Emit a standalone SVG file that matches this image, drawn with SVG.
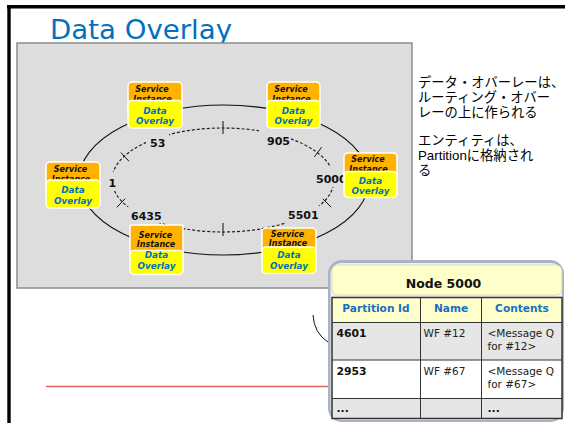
<svg xmlns="http://www.w3.org/2000/svg" width="565" height="423" viewBox="0 0 565 423">
<style>
.sans{font-family:"DejaVu Sans",Verdana,sans-serif}
.si{fill:#ffb300;stroke:#ffffff;stroke-width:1.5}
.do{fill:#ffff00;stroke:#ffffff;stroke-width:1.5}
.sit{font-family:"DejaVu Sans",Verdana,sans-serif;font-size:8px;font-weight:bold;font-style:italic;fill:#111;text-anchor:middle}
.dot{font-family:"DejaVu Sans",Verdana,sans-serif;font-size:8.8px;font-weight:bold;font-style:italic;fill:#0070c0;text-anchor:middle}
.lbl{font-family:"DejaVu Sans",Verdana,sans-serif;font-size:11px;font-weight:bold;fill:#111}
.lbg{fill:#dddddd}
.tick{stroke:#111;stroke-width:1}
.th{font-family:"DejaVu Sans",Verdana,sans-serif;font-size:10.6px;font-weight:bold;fill:#1a6fc0;text-anchor:middle}
.td{font-family:"DejaVu Sans",Verdana,sans-serif;font-size:10.5px;fill:#222}
.tb{font-family:"DejaVu Sans",Verdana,sans-serif;font-size:10.8px;font-weight:bold;fill:#111}
.grid{stroke:#333;stroke-width:1;fill:none}
.jp{font-family:"Liberation Sans","Noto Sans CJK JP",sans-serif;font-size:13.3px;fill:#000}
</style>
<rect width="565" height="423" fill="#ffffff"/>
<!-- frame -->
<rect x="7" y="5" width="558" height="3.5" fill="#000"/>
<rect x="7.3" y="5" width="3.4" height="418" fill="#000"/>
<!-- title -->
<text class="sans" x="50" y="39" font-size="26" fill="#0070c0" textLength="182" lengthAdjust="spacingAndGlyphs">Data Overlay</text>
<!-- panel -->
<rect x="17" y="43" width="395" height="245" fill="#dddddd" stroke="#8c8c8c" stroke-width="1.5"/>
<!-- connectors -->
<g id="connectors">
<ellipse cx="224" cy="180" rx="145" ry="75" fill="none" stroke="#111" stroke-width="1.1"/>
<ellipse cx="223" cy="180" rx="111" ry="52" fill="none" stroke="#222" stroke-width="1.2" stroke-dasharray="3,2"/>
<line class="tick" x1="223" y1="121" x2="223" y2="134"/>
<line class="tick" x1="223" y1="223" x2="223" y2="236"/>
<line class="tick" x1="120.9" y1="152.6" x2="129.1" y2="161.4"/>
<line class="tick" x1="116.8" y1="207.3" x2="125.2" y2="198.7"/>
<line class="tick" x1="314.4" y1="156.8" x2="321.6" y2="147.2"/>
<line class="tick" x1="322.8" y1="198.8" x2="331.2" y2="207.2"/>
<path d="M313,315 Q314,333 328,342" fill="none" stroke="#111" stroke-width="1"/>
<line x1="46" y1="386.5" x2="328" y2="386.5" stroke="#e06060" stroke-width="1.5"/>
</g>
<!-- ring labels -->
<g id="ring-labels">
<rect class="lbg" x="146" y="133" width="23" height="16"/>
<text class="lbl" x="150" y="147">53</text>
<rect class="lbg" x="259" y="128" width="32" height="19"/>
<text class="lbl" x="267" y="144.5">905</text>
<rect class="lbg" x="106" y="172" width="12" height="19"/>
<text class="lbl" x="108.5" y="186.5">1</text>
<rect class="lbg" x="314" y="167" width="30" height="20"/>
<text class="lbl" x="316" y="182.5">5000</text>
<rect class="lbg" x="127" y="207" width="36" height="16"/>
<text class="lbl" x="131" y="219.5">6435</text>
<rect class="lbg" x="285" y="206" width="35" height="17"/>
<text class="lbl" x="288" y="218.5">5501</text>
</g>
<!-- nodes -->
<g id="node-top-left">
<rect class="si" x="128" y="82" width="54" height="28" rx="4"/>
<text class="sit" x="152" y="91.5">Service</text>
<text class="sit" x="152.5" y="101.5">Instance</text>
<rect class="do" x="128" y="100.5" width="54" height="27.5" rx="4"/>
<text class="dot" x="155" y="113.5">Data</text>
<text class="dot" x="155" y="123.5">Overlay</text>
</g>
<g id="node-top-right">
<rect class="si" x="267" y="82" width="53" height="28" rx="4"/>
<text class="sit" x="291" y="91.5">Service</text>
<text class="sit" x="291.5" y="101.5">Instance</text>
<rect class="do" x="267" y="100.5" width="53" height="27.5" rx="4"/>
<text class="dot" x="293.5" y="113.5">Data</text>
<text class="dot" x="293.5" y="123.5">Overlay</text>
</g>
<g id="node-right">
<rect class="si" x="344" y="153" width="53" height="26" rx="4"/>
<text class="sit" x="368" y="162">Service</text>
<text class="sit" x="368.5" y="171.5">Instance</text>
<rect class="do" x="344" y="171.5" width="53" height="26" rx="4"/>
<text class="dot" x="370.5" y="183.5">Data</text>
<text class="dot" x="370.5" y="193.5">Overlay</text>
</g>
<g id="node-left">
<rect class="si" x="46" y="162" width="54" height="26" rx="4"/>
<text class="sit" x="70.5" y="171.5">Service</text>
<text class="sit" x="71" y="181.5">Instance</text>
<rect class="do" x="46" y="180" width="54" height="28" rx="4"/>
<text class="dot" x="73" y="192.5">Data</text>
<text class="dot" x="73" y="203.5">Overlay</text>
</g>
<g id="node-bottom-left">
<rect class="si" x="130" y="225" width="53" height="30" rx="2"/>
<text class="sit" x="155.5" y="237.5">Service</text>
<text class="sit" x="156" y="246.5">Instance</text>
<rect class="do" x="130" y="250.5" width="53" height="24" rx="4"/>
<text class="dot" x="156.5" y="258">Data</text>
<text class="dot" x="156.5" y="269">Overlay</text>
</g>
<g id="node-bottom-right">
<rect class="si" x="262" y="228" width="54" height="24" rx="4"/>
<text class="sit" x="287.5" y="237">Service</text>
<text class="sit" x="288" y="246">Instance</text>
<rect class="do" x="262" y="247" width="54" height="26.5" rx="4"/>
<text class="dot" x="289" y="257.5">Data</text>
<text class="dot" x="289" y="268.5">Overlay</text>
</g>
<!-- Japanese notes -->
<text class="jp">
<tspan x="418" y="87">データ・オバーレーは、</tspan>
<tspan x="418" y="102">ルーティング・オバー</tspan>
<tspan x="418" y="117">レーの上に作られる</tspan>
<tspan x="418" y="145">エンティティは、</tspan>
<tspan x="418" y="160">Partitionに格納され</tspan>
<tspan x="418" y="174.5">る</tspan>
</text>
<!-- table node -->
<g id="node-5000">
<rect x="328" y="260" width="236" height="162" rx="14" fill="#a9b3c2"/>
<rect x="330.5" y="263" width="231.5" height="157" rx="11" fill="#eef0f3"/>
<rect x="332" y="265" width="230" height="30" rx="6" fill="#ffffcc" stroke="#d4d4a8" stroke-width="0.8"/>
<text class="sans" x="443.5" y="287.5" font-size="12.5" font-weight="bold" text-anchor="middle" fill="#111">Node 5000</text>
<rect x="332" y="297.5" width="230" height="25" fill="#ffffcc"/>
<rect x="332" y="322.5" width="230" height="37.5" fill="#e6e6e6"/>
<rect x="332" y="360" width="230" height="38.5" fill="#ffffff"/>
<rect x="332" y="398.5" width="230" height="20" fill="#e6e6e6"/>
<path class="grid" d="M332,322.5 H562 M332,360 H562 M332,398.5 H562 M420.5,297.5 V418.5 M481.5,297.5 V418.5"/>
<rect x="332" y="297.5" width="230" height="121" fill="none" stroke="#333" stroke-width="1.5"/>
<text class="th" x="376" y="311.5">Partition Id</text>
<text class="th" x="451" y="311.5">Name</text>
<text class="th" x="522" y="311.5">Contents</text>
<text class="tb" x="336.5" y="337">4601</text>
<text class="td" x="423.5" y="337">WF #12</text>
<text class="td" x="487.5" y="337">&lt;Message Q</text>
<text class="td" x="487.5" y="349.5">for #12&gt;</text>
<text class="tb" x="336.5" y="375">2953</text>
<text class="td" x="423.5" y="375">WF #67</text>
<text class="td" x="487.5" y="375">&lt;Message Q</text>
<text class="td" x="487.5" y="387.5">for #67&gt;</text>
<text class="tb" x="336.5" y="412">...</text>
<text class="tb" x="487.5" y="412">...</text>
</g>
</svg>
